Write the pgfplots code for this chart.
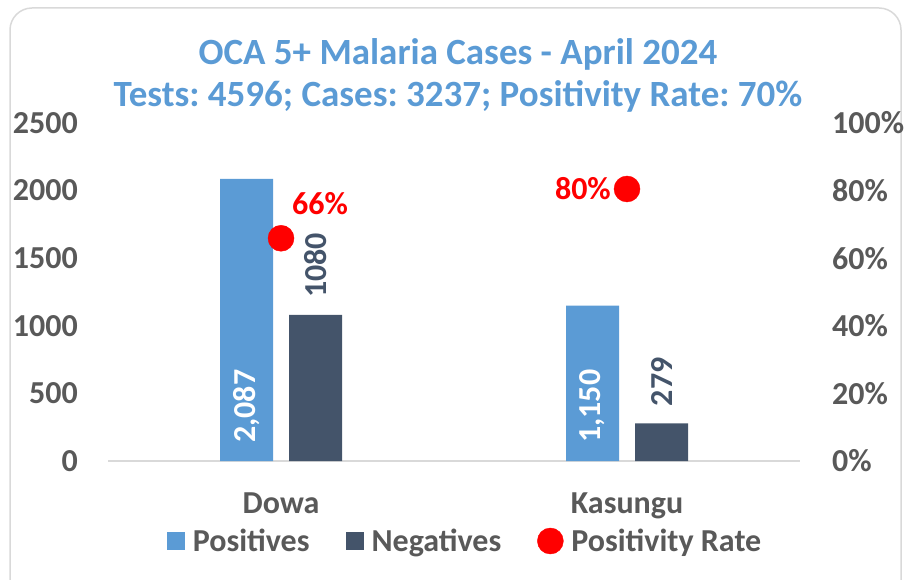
\documentclass[border=0pt]{standalone}
\usepackage{pgfplots}
\pgfplotsset{compat=1.18}
\usepackage{graphicx}
\usepackage{fontspec}
\setmainfont{Carlito}
\frenchspacing
\definecolor{posblue}{HTML}{5B9BD5}
\definecolor{negcol}{HTML}{44546A}
\definecolor{tickgray}{HTML}{595959}
\definecolor{bordergray}{HTML}{D9D9D9}
\newcommand\lbl{\fontsize{32}{38}\selectfont\bfseries}
\newcommand\ttl{\fontsize{37}{43}\selectfont\bfseries}
\pgfplotsset{
  barlegend/.style={legend image code/.code={\draw[##1,draw=none] (0pt,-9pt) rectangle (18pt,9pt);}},
  dotlegend/.style={legend image code/.code={\draw[##1] plot coordinates {(13pt,0pt)};}},
}
\begin{document}
\begin{tikzpicture}[x=1pt,y=1pt]
\useasboundingbox (0,0) rectangle (904,579);
\draw[bordergray, line width=1.5pt, rounded corners=22pt] (10,-30) rectangle (901,571);
\node[anchor=base, text=posblue, inner sep=0pt] at (458,514) {\ttl OCA 5+ Malaria Cases - April 2024};
\node[anchor=base, text=posblue, inner sep=0pt] at (458,472) {\ttl Tests: 4596; Cases: 3237; Positivity Rate: 70\%};
\begin{axis}[
  at={(108pt,118pt)}, anchor=south west,
  scale only axis, width=692pt, height=338pt,
  xmin=-0.5, xmax=1.5, ymin=0, ymax=2500,
  axis x line*=bottom, axis y line*=left,
  x axis line style={draw=bordergray, line width=1.5pt, -},
  y axis line style={draw=none},
  major tick length=0pt,
  xtick={0,1}, xticklabels={Dowa,Kasungu},
  xticklabel style={anchor=base, inner sep=0pt, yshift=-52pt, font=\lbl, text=tickgray},
  ytick={0,500,...,2500},
  yticklabel style={anchor=east, inner sep=0pt, xshift=-30pt, font=\lbl, text=tickgray},
  /pgf/number format/assume math mode=true,
  /pgf/number format/1000 sep={},
  legend columns=3,
  legend style={at={(0.5145,-0.2367)}, anchor=center, draw=none, fill=none, inner sep=0pt,
    nodes={inner sep=0pt, font=\lbl, text=tickgray},
    /tikz/every odd column/.append style={column sep=8pt},
    /tikz/every even column/.append style={column sep=36pt}},
  legend cell align=left,
]
\addplot[ybar, bar width=53pt, bar shift=-34.5pt, fill=posblue, draw=none, barlegend,
  visualization depends on=y \as \rawy,
  nodes near coords={\rotatebox{90}{\pgfmathprintnumber[1000 sep={,}]{\rawy}}},
  every node near coord/.append style={font=\lbl, text=white, inner sep=0pt,
    anchor=south, xshift=-34.5pt, yshift={18-0.1352*\rawy}}]
  coordinates {(0,2087) (1,1150)};
\addlegendentry{Positives}
\addplot[ybar, bar width=53pt, bar shift=34.5pt, fill=negcol, draw=none, barlegend,
  nodes near coords={\rotatebox{90}{\pgfmathprintnumber{\pgfplotspointmeta}}},
  every node near coord/.append style={font=\lbl, text=negcol, inner sep=0pt,
    anchor=south, xshift=34.5pt, yshift=17pt}]
  coordinates {(0,1080) (1,279)};
\addlegendentry{Negatives}
\addlegendimage{only marks, mark=*, mark size=13pt, color=red, mark options={fill=red, draw=red}, dotlegend}
\addlegendentry{Positivity Rate}
\end{axis}
\begin{axis}[
  at={(108pt,118pt)}, anchor=south west,
  scale only axis, width=692pt, height=338pt,
  xmin=-0.5, xmax=1.5, ymin=0, ymax=100,
  axis y line*=right, axis x line=none,
  y axis line style={draw=none},
  major tick length=0pt,
  ytick={0,20,...,100},
  yticklabel={\pgfmathprintnumber{\tick}\%},
  yticklabel style={anchor=west, inner sep=0pt, xshift=32pt, font=\lbl, text=tickgray},
  /pgf/number format/assume math mode=true,
]
\addplot[only marks, mark=*, mark size=13pt, color=red, mark options={fill=red, draw=red},
  nodes near coords={\pgfmathprintnumber[fixed,precision=0]{\pgfplotspointmeta}\%},
  every node near coord/.append style={font=\lbl, text=red, inner sep=0pt,
    anchor=base west, xshift=11pt, yshift=24pt}]
  coordinates {(0,65.9)};
\addplot[only marks, mark=*, mark size=13pt, color=red, mark options={fill=red, draw=red},
  nodes near coords={\pgfmathprintnumber[fixed,precision=0]{\pgfplotspointmeta}\%},
  every node near coord/.append style={font=\lbl, text=red, inner sep=0pt,
    anchor=east, xshift=-16pt}]
  coordinates {(1,80.48)};
\end{axis}
\end{tikzpicture}
\end{document}
